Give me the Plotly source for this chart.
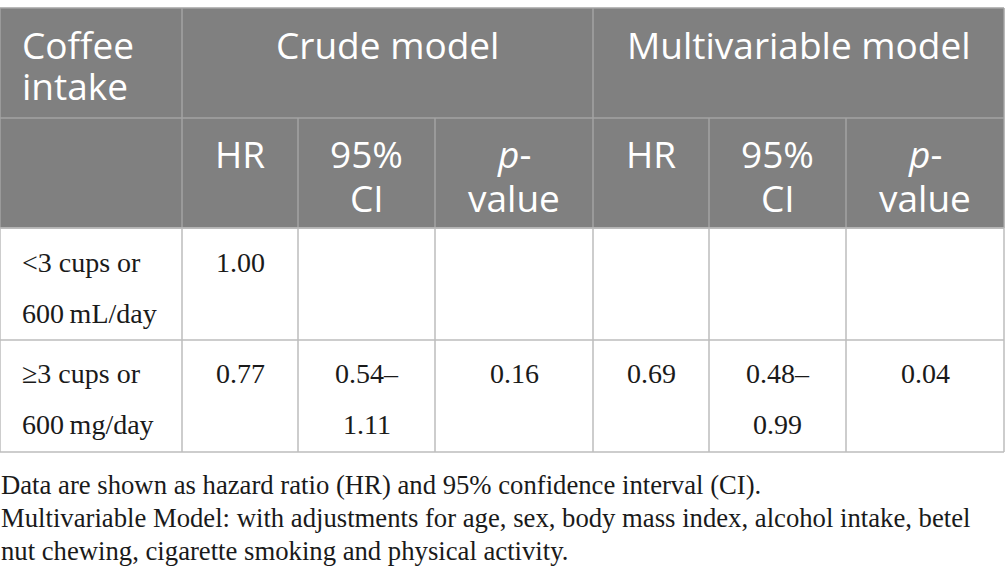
import plotly.graph_objects as go

# table content
GROUP_HEADERS = ["Crude model", "Multivariable model"]
FIRST_HEADER = ["Coffee", "intake"]
SUB_HEADERS = [["HR"], ["95%", "CI"], ["<i>p</i>-", "value"]] * 2
ROW_LABELS = [["<3 cups or", "600\u2009mL/day"], ["\u22653 cups or", "600\u2009mg/day"]]
CRUDE_HR = ["1.00", "0.77"]
CRUDE_CI = [[], ["0.54\u2013", "1.11"]]
CRUDE_P = ["", "0.16"]
MULTI_HR = ["", "0.69"]
MULTI_CI = [[], ["0.48\u2013", "0.99"]]
MULTI_P = ["", "0.04"]
FOOTNOTES = [
  "Data are shown as hazard ratio (HR) and 95% confidence interval (CI).",
  "Multivariable Model: with adjustments for age, sex, body mass index, alcohol intake, betel",
  "nut chewing, cigarette smoking and physical activity.",
]

# geometry (pixels)
W, H = 1005, 584
COL_EDGES = [0, 182, 298, 435, 593, 709, 846, 1004]
ROW_EDGES = [8, 118, 228, 340, 452]
HEAD_BG = "#808080"
HEAD_LINE = "#a3a3a3"
BODY_LINE = "#bdbdbd"
SANS = "Open Sans"
SERIF = "Liberation Serif"
HEAD_SIZE = 37
BODY_SIZE = 28
NOTE_SIZE = 26.7


def col_mid(i: int) -> float:
  return (COL_EDGES[i] + COL_EDGES[i + 1]) / 2


def text(x, y, s, font, size, color, anchor="center"):
  return dict(
    x=x, y=y, xref="x", yref="y", text=s, showarrow=False,
    xanchor=anchor, yanchor="middle", borderpad=0,
    font=dict(family=font, size=size, color=color),
  )


def line(x0, y0, x1, y1, color):
  return dict(type="line", xref="x", yref="y", x0=x0, y0=y0, x1=x1, y1=y1,
              line=dict(color=color, width=1.5), layer="above")


shapes = [
  dict(type="rect", xref="x", yref="y", x0=COL_EDGES[0], x1=COL_EDGES[-1],
       y0=ROW_EDGES[0], y1=ROW_EDGES[2], fillcolor=HEAD_BG, line=dict(width=0), layer="below"),
]
# header grid
for y in ROW_EDGES[:3]:
  shapes.append(line(COL_EDGES[0], y, COL_EDGES[-1], y, HEAD_LINE))
for x in (COL_EDGES[0], COL_EDGES[1], COL_EDGES[4], COL_EDGES[-1]):
  shapes.append(line(x, ROW_EDGES[0], x, ROW_EDGES[1], HEAD_LINE))
for x in COL_EDGES:
  shapes.append(line(x, ROW_EDGES[1], x, ROW_EDGES[2], HEAD_LINE))
# body grid
for y in ROW_EDGES[2:]:
  shapes.append(line(COL_EDGES[0], y, COL_EDGES[-1], y, BODY_LINE))
for x in COL_EDGES:
  shapes.append(line(x, ROW_EDGES[2], x, ROW_EDGES[-1], BODY_LINE))

annotations = []
HEAD_LINE_Y = [44, 85]
SUB_LINE_Y = [153, 197]
for k, s in enumerate(FIRST_HEADER):
  annotations.append(text(21, HEAD_LINE_Y[k], s, SANS, HEAD_SIZE, "white", "left"))
annotations.append(text((COL_EDGES[1] + COL_EDGES[4]) / 2, HEAD_LINE_Y[0], GROUP_HEADERS[0], SANS, HEAD_SIZE, "white"))
annotations.append(text((COL_EDGES[4] + COL_EDGES[7]) / 2, HEAD_LINE_Y[0], GROUP_HEADERS[1], SANS, HEAD_SIZE, "white"))
for j, parts in enumerate(SUB_HEADERS):
  for k, s in enumerate(parts):
    annotations.append(text(col_mid(j + 1), SUB_LINE_Y[k], s, SANS, HEAD_SIZE, "white"))

BODY_LINE_Y = [[262, 313], [373, 424]]
for r in range(len(ROW_LABELS)):
  ys = BODY_LINE_Y[r]
  for k, s in enumerate(ROW_LABELS[r]):
    annotations.append(text(21, ys[k], s, SERIF, BODY_SIZE, "#1a1a1a", "left"))
  cells = [[CRUDE_HR[r]], CRUDE_CI[r], [CRUDE_P[r]], [MULTI_HR[r]], MULTI_CI[r], [MULTI_P[r]]]
  for j, parts in enumerate(cells):
    for k, s in enumerate(parts):
      if s:
        annotations.append(text(col_mid(j + 1), ys[k], s, SERIF, BODY_SIZE, "#1a1a1a"))

NOTE_Y = [485, 518, 551]
for k, s in enumerate(FOOTNOTES):
  annotations.append(text(0, NOTE_Y[k], s, SERIF, NOTE_SIZE, "#1a1a1a", "left"))

fig = go.Figure()
fig.update_layout(
  width=W,
  height=H,
  autosize=False,
  margin=dict(l=0, r=0, t=0, b=0),
  paper_bgcolor="white",
  plot_bgcolor="white",
  xaxis=dict(range=[0, W], visible=False, fixedrange=True),
  yaxis=dict(range=[H, 0], visible=False, fixedrange=True),
  shapes=shapes,
  annotations=annotations,
  showlegend=False,
)
# drop the browser's default 8px body margin so the figure sits at the page origin
fig.write_html(
  "out.html",
  config={"displayModeBar": False},
  post_script="document.body.style.margin = '0';",
)
